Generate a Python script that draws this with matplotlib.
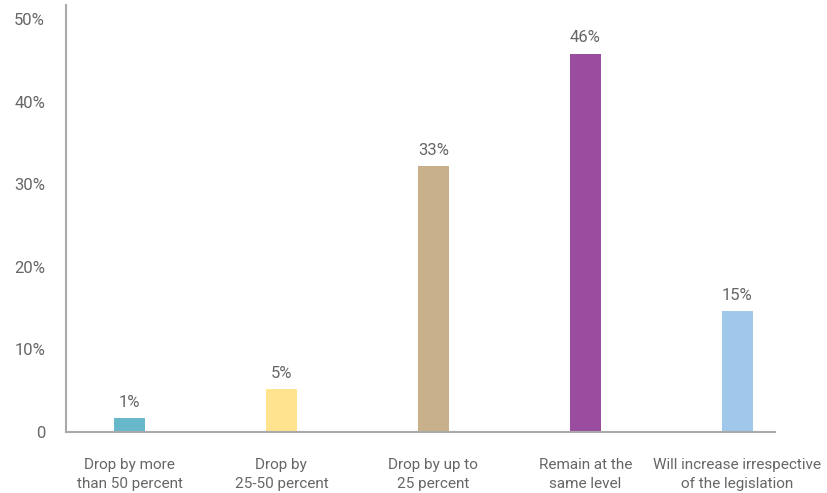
import matplotlib

matplotlib.use("Agg")
import matplotlib.pyplot as plt
from matplotlib.ticker import FixedLocator

plt.rcParams["font.family"] = ["Roboto", "DejaVu Sans"]

categories = [
    "Drop by more\nthan 50 percent",
    "Drop by\n25-50 percent",
    "Drop by up to\n25 percent",
    "Remain at the\nsame level",
    "Will increase irrespective\nof the legislation",
]
values = [1.7, 5.2, 32.2, 45.8, 14.6]
value_labels = ["1%", "5%", "33%", "46%", "15%"]
colors = ["#67B8CB", "#FFE38F", "#C8B08A", "#9A4C9E", "#A0C8EA"]
y_ticks = [0, 10, 20, 30, 40, 50]
y_tick_labels = ["0", "10%", "20%", "30%", "40%", "50%"]

text_color = "#666666"
spine_color = "#AAAAAA"

fig = plt.figure(figsize=(8.27, 4.93), dpi=100)
ax = fig.add_axes([0.0798, 0.1237, 0.857, 0.866])

x = range(len(categories))
bars = ax.bar(x, values, width=0.204, color=colors)

for bar, label in zip(bars, value_labels):
    ax.annotate(
        label,
        (bar.get_x() + bar.get_width() / 2, bar.get_height()),
        xytext=(0, 6),
        textcoords="offset points",
        ha="center",
        va="bottom",
        fontsize=12,
        color=text_color,
    )

ax.set_xlim(-0.418, 4.247)
ax.set_ylim(0, 51.7)
ax.set_xticks(list(x), categories, fontsize=11, color=text_color, linespacing=1.45)
ax.yaxis.set_major_locator(FixedLocator(y_ticks))
ax.set_yticklabels(y_tick_labels, fontsize=12, color=text_color)
ax.tick_params(axis="x", length=0, pad=19)
ax.tick_params(axis="y", length=0, pad=15)

for side in ("top", "right"):
    ax.spines[side].set_visible(False)
for side in ("left", "bottom"):
    ax.spines[side].set_color(spine_color)
    ax.spines[side].set_linewidth(1.5)

fig.savefig("out.png", dpi=100)
plt.close(fig)
